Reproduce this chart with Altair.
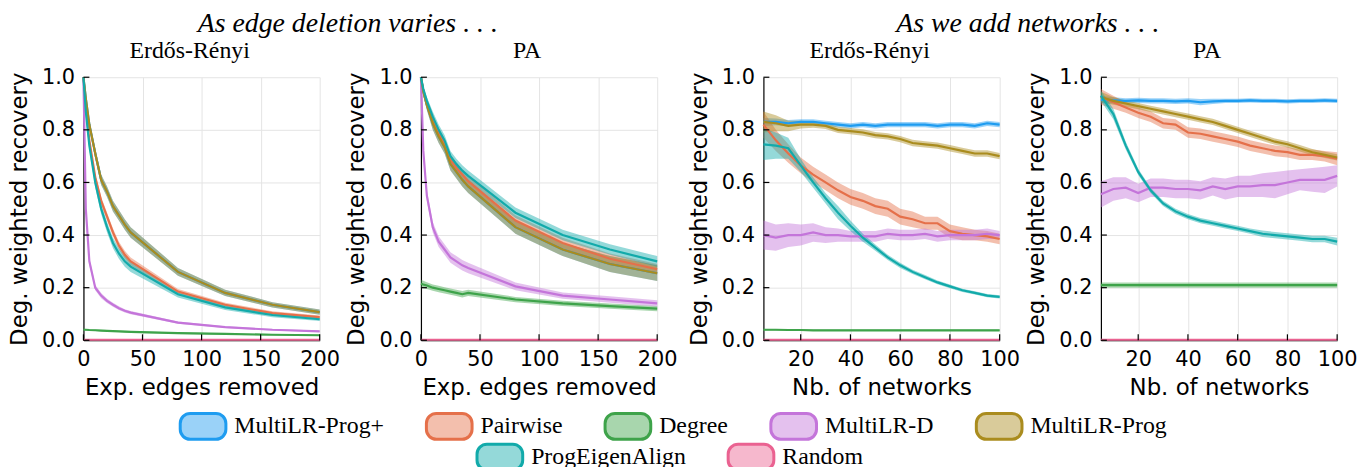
import altair as alt
import pandas as pd

METHODS = ["MultiLR-Prog+", "Pairwise", "Degree", "MultiLR-D", "MultiLR-Prog", "ProgEigenAlign", "Random"]
COLORS = ["#1E9CF0", "#E5704A", "#3EA34A", "#C475DA", "#AA8C1E", "#12AAAA", "#EA6291"]

YTICKS = [0.0, 0.2, 0.4, 0.6, 0.8, 1.0]
EDGE_TICKS = [0, 50, 100, 150, 200]
NET_TICKS = [20, 40, 60, 80, 100]

EDGE_X = [0, 2, 5, 10, 15, 20, 25, 30, 35, 40, 80, 120, 160, 200]
NET_X = [5, 10, 15, 20, 25, 30, 35, 40, 45, 50, 55, 60, 65, 70, 75, 80, 85, 90, 95, 100]

# ---- Erdos-Renyi, edge deletion ----
ER_EDGE_MEAN = {
    "MultiLR-Prog+": [1.0, 0.92, 0.82, 0.71, 0.61, 0.565, 0.51, 0.475, 0.44, 0.41, 0.26, 0.18, 0.135, 0.107],
    "Pairwise": [1.0, 0.89, 0.76, 0.62, 0.53, 0.47, 0.41, 0.36, 0.325, 0.30, 0.185, 0.135, 0.103, 0.088],
    "Degree": [0.04, 0.04, 0.039, 0.038, 0.037, 0.036, 0.035, 0.034, 0.033, 0.032, 0.027, 0.024, 0.021, 0.019],
    "MultiLR-D": [1.0, 0.50, 0.30, 0.20, 0.17, 0.15, 0.135, 0.122, 0.112, 0.105, 0.067, 0.05, 0.04, 0.034],
    "MultiLR-Prog": [1.0, 0.92, 0.82, 0.71, 0.61, 0.565, 0.51, 0.475, 0.44, 0.41, 0.26, 0.18, 0.135, 0.107],
    "ProgEigenAlign": [1.0, 0.87, 0.74, 0.60, 0.50, 0.43, 0.37, 0.33, 0.30, 0.28, 0.175, 0.125, 0.096, 0.08],
    "Random": [0.002, 0.002, 0.002, 0.002, 0.002, 0.002, 0.002, 0.002, 0.002, 0.002, 0.002, 0.002, 0.002, 0.002],
}
ER_EDGE_BAND = {
    "MultiLR-Prog+": [0, 0.01, 0.015, 0.02, 0.02, 0.02, 0.02, 0.02, 0.02, 0.02, 0.015, 0.012, 0.01, 0.01],
    "Pairwise": [0, 0.01, 0.012, 0.015, 0.015, 0.015, 0.015, 0.015, 0.015, 0.015, 0.01, 0.008, 0.007, 0.006],
    "Degree": [0.003, 0.003, 0.003, 0.003, 0.003, 0.003, 0.003, 0.003, 0.003, 0.003, 0.003, 0.003, 0.003, 0.003],
    "MultiLR-D": [0, 0.02, 0.015, 0.01, 0.01, 0.008, 0.008, 0.007, 0.006, 0.006, 0.004, 0.003, 0.003, 0.003],
    "MultiLR-Prog": [0, 0.01, 0.015, 0.02, 0.02, 0.02, 0.02, 0.02, 0.02, 0.02, 0.015, 0.012, 0.01, 0.01],
    "ProgEigenAlign": [0, 0.01, 0.015, 0.02, 0.02, 0.02, 0.02, 0.02, 0.02, 0.02, 0.012, 0.01, 0.008, 0.007],
    "Random": [0.001, 0.001, 0.001, 0.001, 0.001, 0.001, 0.001, 0.001, 0.001, 0.001, 0.001, 0.001, 0.001, 0.001],
}

# ---- PA, edge deletion ----
PA_EDGE_MEAN = {
    "MultiLR-Prog+": [1.0, 0.945, 0.895, 0.825, 0.775, 0.735, 0.67, 0.64, 0.61, 0.585, 0.43, 0.345, 0.29, 0.255],
    "Pairwise": [1.0, 0.95, 0.90, 0.835, 0.785, 0.745, 0.685, 0.655, 0.63, 0.605, 0.455, 0.37, 0.31, 0.27],
    "Degree": [0.215, 0.212, 0.208, 0.20, 0.195, 0.19, 0.185, 0.18, 0.175, 0.18, 0.155, 0.14, 0.13, 0.12],
    "MultiLR-D": [1.0, 0.72, 0.55, 0.43, 0.375, 0.345, 0.315, 0.30, 0.285, 0.275, 0.205, 0.17, 0.155, 0.14],
    "MultiLR-Prog": [1.0, 0.945, 0.895, 0.825, 0.775, 0.735, 0.67, 0.64, 0.61, 0.585, 0.43, 0.345, 0.29, 0.255],
    "ProgEigenAlign": [1.0, 0.955, 0.91, 0.85, 0.80, 0.76, 0.70, 0.67, 0.645, 0.625, 0.485, 0.40, 0.345, 0.30],
    "Random": [0.002, 0.002, 0.002, 0.002, 0.002, 0.002, 0.002, 0.002, 0.002, 0.002, 0.002, 0.002, 0.002, 0.002],
}
PA_EDGE_BAND = {
    "MultiLR-Prog+": [0, 0.015, 0.02, 0.025, 0.025, 0.025, 0.025, 0.025, 0.025, 0.025, 0.025, 0.025, 0.03, 0.03],
    "Pairwise": [0, 0.012, 0.015, 0.02, 0.02, 0.02, 0.02, 0.02, 0.02, 0.02, 0.02, 0.02, 0.02, 0.02],
    "Degree": [0.015, 0.014, 0.013, 0.012, 0.012, 0.012, 0.012, 0.012, 0.012, 0.012, 0.01, 0.01, 0.01, 0.01],
    "MultiLR-D": [0, 0.02, 0.02, 0.02, 0.02, 0.02, 0.02, 0.02, 0.02, 0.02, 0.015, 0.012, 0.012, 0.012],
    "MultiLR-Prog": [0, 0.015, 0.02, 0.025, 0.025, 0.025, 0.025, 0.025, 0.025, 0.025, 0.025, 0.025, 0.03, 0.03],
    "ProgEigenAlign": [0, 0.012, 0.015, 0.02, 0.02, 0.02, 0.02, 0.02, 0.02, 0.02, 0.02, 0.02, 0.02, 0.02],
    "Random": [0.001, 0.001, 0.001, 0.001, 0.001, 0.001, 0.001, 0.001, 0.001, 0.001, 0.001, 0.001, 0.001, 0.001],
}

# ---- Erdos-Renyi, adding networks ----
ER_NET_MEAN = {
    "MultiLR-Prog+": [0.83, 0.83, 0.825, 0.83, 0.83, 0.825, 0.82, 0.815, 0.82, 0.815, 0.82, 0.82, 0.82, 0.82, 0.815, 0.82, 0.82, 0.815, 0.825, 0.82],
    "Pairwise": [0.82, 0.76, 0.71, 0.665, 0.63, 0.60, 0.57, 0.545, 0.53, 0.51, 0.50, 0.47, 0.46, 0.445, 0.445, 0.415, 0.405, 0.40, 0.395, 0.385],
    "Degree": [0.04, 0.04, 0.039, 0.039, 0.038, 0.038, 0.038, 0.038, 0.038, 0.038, 0.038, 0.038, 0.038, 0.038, 0.038, 0.038, 0.038, 0.038, 0.038, 0.038],
    "MultiLR-D": [0.40, 0.39, 0.40, 0.40, 0.41, 0.40, 0.40, 0.395, 0.395, 0.395, 0.405, 0.40, 0.40, 0.405, 0.395, 0.40, 0.40, 0.40, 0.405, 0.40],
    "MultiLR-Prog": [0.83, 0.825, 0.815, 0.82, 0.82, 0.815, 0.80, 0.795, 0.79, 0.78, 0.775, 0.765, 0.75, 0.745, 0.74, 0.73, 0.72, 0.71, 0.71, 0.70],
    "ProgEigenAlign": [0.745, 0.74, 0.73, 0.665, 0.60, 0.54, 0.485, 0.435, 0.39, 0.352, 0.315, 0.285, 0.26, 0.24, 0.22, 0.205, 0.19, 0.18, 0.17, 0.165],
    "Random": [0.002, 0.002, 0.002, 0.002, 0.002, 0.002, 0.002, 0.002, 0.002, 0.002, 0.002, 0.002, 0.002, 0.002, 0.002, 0.002, 0.002, 0.002, 0.002, 0.002],
}
ER_NET_BAND = {
    "MultiLR-Prog+": [0.015, 0.013, 0.012, 0.01, 0.01, 0.01, 0.01, 0.01, 0.01, 0.01, 0.01, 0.01, 0.01, 0.01, 0.01, 0.01, 0.01, 0.01, 0.01, 0.01],
    "Pairwise": [0.05, 0.04, 0.035, 0.03, 0.03, 0.03, 0.03, 0.03, 0.03, 0.03, 0.03, 0.03, 0.03, 0.025, 0.025, 0.025, 0.025, 0.02, 0.02, 0.02],
    "Degree": [0.003, 0.003, 0.003, 0.003, 0.003, 0.003, 0.003, 0.003, 0.003, 0.003, 0.003, 0.003, 0.003, 0.003, 0.003, 0.003, 0.003, 0.003, 0.003, 0.003],
    "MultiLR-D": [0.055, 0.05, 0.045, 0.04, 0.035, 0.03, 0.025, 0.02, 0.02, 0.02, 0.02, 0.02, 0.02, 0.02, 0.02, 0.02, 0.02, 0.02, 0.02, 0.015],
    "MultiLR-Prog": [0.04, 0.03, 0.02, 0.015, 0.012, 0.012, 0.012, 0.012, 0.012, 0.012, 0.012, 0.012, 0.012, 0.012, 0.012, 0.012, 0.012, 0.012, 0.012, 0.012],
    "ProgEigenAlign": [0.06, 0.05, 0.04, 0.025, 0.02, 0.02, 0.025, 0.02, 0.015, 0.012, 0.01, 0.01, 0.008, 0.008, 0.007, 0.007, 0.006, 0.006, 0.006, 0.006],
    "Random": [0.001, 0.001, 0.001, 0.001, 0.001, 0.001, 0.001, 0.001, 0.001, 0.001, 0.001, 0.001, 0.001, 0.001, 0.001, 0.001, 0.001, 0.001, 0.001, 0.001],
}

# ---- PA, adding networks ----
PA_NET_MEAN = {
    "MultiLR-Prog+": [0.915, 0.912, 0.91, 0.912, 0.91, 0.91, 0.908, 0.91, 0.905, 0.908, 0.91, 0.91, 0.912, 0.91, 0.91, 0.908, 0.91, 0.91, 0.912, 0.91],
    "Pairwise": [0.925, 0.905, 0.885, 0.865, 0.85, 0.825, 0.82, 0.79, 0.785, 0.775, 0.765, 0.755, 0.74, 0.73, 0.72, 0.715, 0.705, 0.705, 0.70, 0.69],
    "Degree": [0.21, 0.21, 0.21, 0.21, 0.21, 0.21, 0.21, 0.21, 0.21, 0.21, 0.21, 0.21, 0.21, 0.21, 0.21, 0.21, 0.21, 0.21, 0.21, 0.21],
    "MultiLR-D": [0.555, 0.575, 0.58, 0.56, 0.58, 0.58, 0.575, 0.575, 0.57, 0.585, 0.575, 0.585, 0.585, 0.59, 0.59, 0.60, 0.61, 0.61, 0.61, 0.625],
    "MultiLR-Prog": [0.925, 0.91, 0.90, 0.89, 0.88, 0.87, 0.86, 0.85, 0.84, 0.83, 0.815, 0.80, 0.785, 0.77, 0.755, 0.745, 0.73, 0.715, 0.705, 0.695],
    "ProgEigenAlign": [0.93, 0.86, 0.74, 0.64, 0.57, 0.52, 0.49, 0.47, 0.455, 0.445, 0.435, 0.425, 0.415, 0.405, 0.40, 0.395, 0.39, 0.385, 0.385, 0.375],
    "Random": [0.002, 0.002, 0.002, 0.002, 0.002, 0.002, 0.002, 0.002, 0.002, 0.002, 0.002, 0.002, 0.002, 0.002, 0.002, 0.002, 0.002, 0.002, 0.002, 0.002],
}
PA_NET_BAND = {
    "MultiLR-Prog+": [0.015, 0.012, 0.01, 0.01, 0.01, 0.01, 0.01, 0.01, 0.012, 0.01, 0.008, 0.008, 0.008, 0.008, 0.008, 0.008, 0.008, 0.008, 0.008, 0.008],
    "Pairwise": [0.03, 0.025, 0.02, 0.02, 0.02, 0.02, 0.02, 0.02, 0.02, 0.02, 0.02, 0.02, 0.02, 0.02, 0.02, 0.02, 0.02, 0.02, 0.02, 0.025],
    "Degree": [0.01, 0.01, 0.01, 0.01, 0.01, 0.01, 0.01, 0.01, 0.01, 0.01, 0.01, 0.01, 0.01, 0.01, 0.01, 0.01, 0.01, 0.01, 0.01, 0.01],
    "MultiLR-D": [0.05, 0.045, 0.04, 0.035, 0.035, 0.035, 0.035, 0.035, 0.035, 0.035, 0.04, 0.04, 0.04, 0.045, 0.05, 0.045, 0.04, 0.045, 0.05, 0.04],
    "MultiLR-Prog": [0.02, 0.015, 0.012, 0.012, 0.012, 0.012, 0.012, 0.012, 0.012, 0.012, 0.012, 0.012, 0.012, 0.012, 0.012, 0.012, 0.012, 0.012, 0.012, 0.012],
    "ProgEigenAlign": [0.02, 0.02, 0.015, 0.012, 0.01, 0.01, 0.01, 0.01, 0.01, 0.01, 0.01, 0.01, 0.01, 0.012, 0.012, 0.012, 0.012, 0.012, 0.012, 0.015],
    "Random": [0.001, 0.001, 0.001, 0.001, 0.001, 0.001, 0.001, 0.001, 0.001, 0.001, 0.001, 0.001, 0.001, 0.001, 0.001, 0.001, 0.001, 0.001, 0.001, 0.001],
}

W, H = 238, 265
SERIF = "Liberation Serif"
SANS = "DejaVu Sans"
GROUP_A = METHODS[:5]
GROUP_B = METHODS[5:]

# rounded-rectangle legend swatch (drawn wider than its layout box)
SWATCH = ("M -1.0,-1 L 1.0,-1 A 0.77,0.77 0 0 1 1.77,-0.23 L 1.77,0.23 "
          "A 0.77,0.77 0 0 1 1.0,1 L -1.0,1 A 0.77,0.77 0 0 1 -1.77,0.23 "
          "L -1.77,-0.23 A 0.77,0.77 0 0 1 -1.0,-1 Z")


def legend(lx, ly):
    return alt.Legend(
        title=None, orient="none", legendX=lx, legendY=ly, direction="horizontal",
        symbolType=SWATCH, symbolSize=676, symbolStrokeWidth=3,
        labelFont=SERIF, labelFontSize=24, labelColor="black", labelOffset=17,
        columnPadding=36,
    )


LEG_A = legend(106, 337)
LEG_B = legend(405, 368)
SCALE_A = alt.Scale(domain=GROUP_A, range=COLORS[:5])
SCALE_B = alt.Scale(domain=GROUP_B, range=COLORS[5:])


def build(xs, means, bands):
    rows = []
    for m in METHODS:
        for x, v, b in zip(xs, means[m], bands[m]):
            rows.append({"x": x, "y": v, "lo": max(v - b, 0.0), "hi": v + b, "method": m})
    return pd.DataFrame(rows)


def panel(df, title, xdom, xticks, xtitle):
    xs = alt.Scale(domain=xdom, nice=False, zero=False)
    ys = alt.Scale(domain=[0, 1], nice=False)
    xax = alt.Axis(values=xticks, title=xtitle)
    yax = alt.Axis(values=YTICKS, format=".1f", title="Deg. weighted recovery")
    X = alt.X("x:Q", scale=xs, axis=xax)
    base = alt.Chart(df)
    A = base.transform_filter(alt.FieldOneOfPredicate(field="method", oneOf=GROUP_A))
    B = base.transform_filter(alt.FieldOneOfPredicate(field="method", oneOf=GROUP_B))
    areaA = A.mark_area().encode(
        x=X, y=alt.Y("lo:Q", scale=ys, axis=yax), y2="hi:Q",
        color=alt.Color("method:N", scale=SCALE_A, legend=LEG_A))
    lineA = A.mark_line(strokeWidth=2.2).encode(
        x=X, y=alt.Y("y:Q", scale=ys, axis=yax),
        color=alt.Color("method:N", scale=SCALE_A, legend=LEG_A))
    areaB = B.mark_area().encode(
        x=X, y=alt.Y("lo:Q", scale=ys, axis=yax), y2="hi:Q",
        fill=alt.Fill("method:N", scale=SCALE_B, legend=LEG_B))
    lineB = B.mark_line(strokeWidth=2.2).encode(
        x=X, y=alt.Y("y:Q", scale=ys, axis=yax),
        stroke=alt.Stroke("method:N", scale=SCALE_B, legend=LEG_B))
    ytk = alt.Chart(pd.DataFrame({"y": YTICKS})).mark_rule(color="black", strokeWidth=1.2).encode(
        y=alt.Y("y:Q", scale=ys, axis=yax), x=alt.value(0), x2=alt.value(6))
    xtk = alt.Chart(pd.DataFrame({"x": xticks})).mark_rule(color="black", strokeWidth=1.2).encode(
        x=X, y=alt.value(H - 6), y2=alt.value(H))
    return alt.layer(areaA, areaB, lineA, lineB, ytk, xtk).properties(
        width=W, height=H,
        title=alt.TitleParams(title, font=SERIF, fontSize=24, fontWeight="normal", color="black",
                              anchor="middle", frame="group", baseline="alphabetic", offset=-16, dx=-12),
    )


p1 = panel(build(EDGE_X, ER_EDGE_MEAN, ER_EDGE_BAND), "Erdős-Rényi", [0, 200], EDGE_TICKS, "Exp. edges removed")
p2 = panel(build(EDGE_X, PA_EDGE_MEAN, PA_EDGE_BAND), "PA", [0, 200], EDGE_TICKS, "Exp. edges removed")
p3 = panel(build(NET_X, ER_NET_MEAN, ER_NET_BAND), "Erdős-Rényi", [5, 100], NET_TICKS, "Nb. of networks")
p4 = panel(build(NET_X, PA_NET_MEAN, PA_NET_BAND), "PA", [5, 100], NET_TICKS, "Nb. of networks")


def supertitle(text):
    return alt.TitleParams(text, font=SERIF, fontSize=28, fontStyle="italic", fontWeight="normal",
                           color="black", anchor="middle", frame="bounds", baseline="alphabetic",
                           offset=-20, dx=5)


left = alt.hconcat(p1, p2, spacing=102, bounds="flush", title=supertitle("As edge deletion varies . . ."))
right = alt.hconcat(p3, p4, spacing=102, bounds="flush", title=supertitle("As we add networks . . ."))

chart = (
    alt.hconcat(left, right, spacing=10)
    .properties(padding={"left": 0, "top": 0, "right": 0, "bottom": 0})
    .configure_view(stroke=None)
    .configure_area(fillOpacity=0.45)
    .configure_axis(
        labelFont=SANS, labelFontSize=21, labelColor="black",
        titleFont=SANS, titleFontSize=23, titleFontWeight="normal", titleColor="black",
        domainColor="black", domainWidth=1.2, gridColor="#e4e4e4", gridWidth=1,
        ticks=False, labelFlush=False,
    )
    .configure_axisX(labelPadding=8, titlePadding=8)
    .configure_axisY(labelPadding=9, titlePadding=10)
)

chart.save("out.html", embed_options={"renderer": "svg", "actions": False})
